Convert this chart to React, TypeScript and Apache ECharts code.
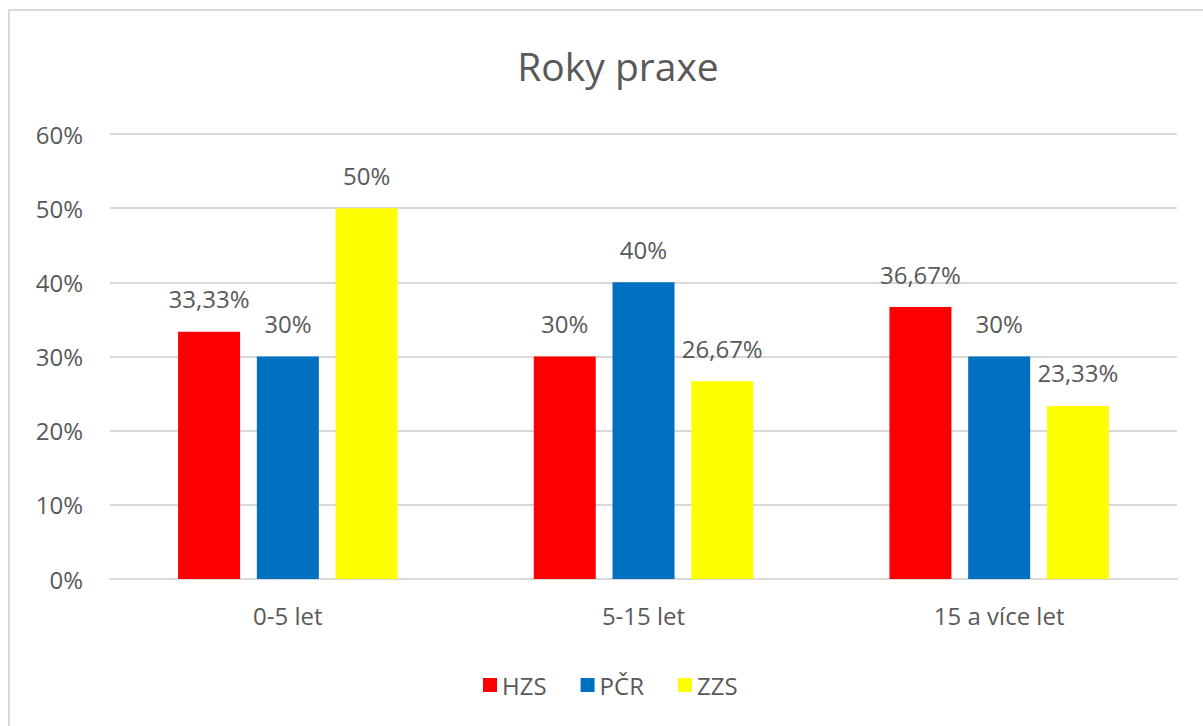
import React, { useEffect, useRef } from "react";
import * as echarts from "echarts";

const categories = ["0-5 let", "5-15 let", "15 a více let"];
const seriesNames = ["HZS", "PČR", "ZZS"];
const hzs = [33.33, 30, 36.67];
const pcr = [30, 40, 30];
const zzs = [50, 26.67, 23.33];
const colors = ["#FF0000", "#0070C0", "#FFFF00"];
const yTicks = [0, 10, 20, 30, 40, 50, 60];

const FONT = "'Open Sans', 'Noto Sans', sans-serif";
const TXT = "#595959";

function fmt(v: number) {
  return String(v).replace(".", ",") + "%";
}

export default function App() {
  const ref = useRef<HTMLDivElement>(null);
  useEffect(() => {
    if (!ref.current) return;
    const chart = echarts.init(ref.current, null, { renderer: "svg" });
    const data = [hzs, pcr, zzs];
    chart.setOption({
      animation: false,
      backgroundColor: "#ffffff",
      title: {
        text: "Roky praxe",
        left: 613,
        textAlign: "center",
        top: 41,
        textStyle: { fontFamily: FONT, fontSize: 39, fontWeight: "normal", color: TXT },
      },
      graphic: [
        {
          type: "rect",
          shape: { x: 9, y: 10, width: 1260, height: 800 },
          style: { fill: "none", stroke: "#d9d9d9", lineWidth: 2 },
          silent: true,
        },
      ],
      legend: {
        data: seriesNames,
        left: 478,
        top: 668,
        itemWidth: 14,
        itemHeight: 14,
        itemGap: 34,
        icon: "rect",
        textStyle: { fontFamily: FONT, fontSize: 24, color: TXT },
      },
      grid: { left: 110, right: 26, top: 134, bottom: 147 },
      xAxis: {
        type: "category",
        data: categories,
        axisLine: { lineStyle: { color: "#d9d9d9", width: 2 } },
        axisTick: { show: false },
        axisLabel: { fontFamily: FONT, fontSize: 24, color: TXT, margin: 24 },
      },
      yAxis: {
        type: "value",
        min: yTicks[0],
        max: yTicks[yTicks.length - 1],
        interval: 10,
        axisLine: { show: false },
        axisTick: { show: false },
        axisLabel: { fontFamily: FONT, fontSize: 24, color: TXT, margin: 27, formatter: (v: number) => v + "%" },
        splitLine: { lineStyle: { color: "#d9d9d9", width: 2 } },
      },
      series: seriesNames.map((name, i) => ({
        name,
        type: "bar",
        data: data[i],
        barWidth: 62,
        barGap: "27%",
        itemStyle: { color: colors[i] },
        label: {
          show: true,
          position: "top",
          distance: 21,
          fontFamily: FONT,
          fontSize: 24,
          color: TXT,
          formatter: (p: any) => fmt(p.value),
        },
      })),
    });
    return () => chart.dispose();
  }, []);
  return (
    <div
      ref={ref}
      style={{ position: "fixed", left: 0, top: 0, width: 1203, height: 726 }}
    />
  );
}
